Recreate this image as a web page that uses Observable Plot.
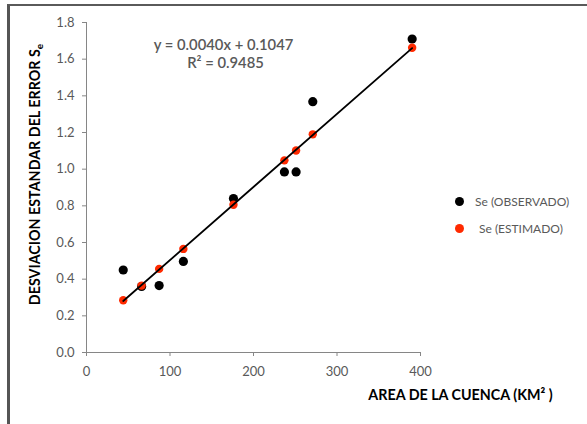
<!DOCTYPE html>
<html>
<head>
<meta charset="utf-8">
<script src="https://cdn.jsdelivr.net/npm/d3@7"></script>
<script src="https://cdn.jsdelivr.net/npm/@observablehq/plot@0.6"></script>
<style>
  html, body { margin: 0; padding: 0; background: #fff; }
  #wrap { position: relative; width: 587px; height: 424px; overflow: hidden; font-family: Lato, "Open Sans", sans-serif; }
  #wrap svg { position: absolute; left: 0; top: 0; }
  #frame { position: absolute; left: 7px; top: 4px; width: 620px; height: 440px;
           border-left: 3px solid #555; border-top: 2px solid #5a5a5a; }
  .leg { position: absolute; display: flex; align-items: center; font-size: 12px; color: #595959; white-space: nowrap; }
  .leg .sw { display: inline-block; border-radius: 50%; }
</style>
</head>
<body>
<div id="wrap"><div id="frame"></div></div>
<script>
// ---- data ----
const areas     = [44, 66, 87, 116, 176, 237, 251, 271, 390];
const observed  = [0.45, 0.36, 0.365, 0.497, 0.84, 0.985, 0.985, 1.368, 1.71];
const estimated = [0.285, 0.365, 0.456, 0.565, 0.806, 1.048, 1.102, 1.19, 1.662];
const xTicks = [0, 100, 200, 300, 400];
const yTicks = [0, 0.2, 0.4, 0.6, 0.8, 1.0, 1.2, 1.4, 1.6, 1.8];
const seriesNames = ["Se (OBSERVADO)", "Se (ESTIMADO)"];
const seriesColors = ["#000000", "#ff2a00"];
const equationText = "y = 0.0040x + 0.1047";
const r2Text = "R\u00b2 = 0.9485";
const xTitle = "AREA DE LA CUENCA (KM\u00b2 )";
const yTitle = "DESVIACION ESTANDAR DEL ERROR S";

const rows = areas.map((a, i) => ({area: a, obs: observed[i], est: estimated[i]}));

const axisGray = "#868686";
const textGray = "#595959";

const chart = Plot.plot({
  width: 587,
  height: 424,
  marginLeft: 86,
  marginRight: 167,
  marginTop: 22,
  marginBottom: 72,
  style: {fontFamily: "Lato, 'Open Sans', sans-serif", fontSize: "13px", background: "transparent"},
  x: {domain: [0, 400]},
  y: {domain: [0, 1.8]},
  marks: [
    Plot.ruleX([0], {stroke: axisGray, strokeWidth: 1}),
    Plot.ruleY([0], {stroke: axisGray, strokeWidth: 1}),
    Plot.axisX({ticks: xTicks, tickSize: 4, tickPadding: 10, label: null, color: axisGray, fontSize: 13}),
    Plot.axisY({ticks: yTicks, tickSize: 4, tickPadding: 8, label: null, color: axisGray, fontSize: 13, tickFormat: d3.format(".1f")}),
    Plot.dot(rows, {x: "area", y: "obs", r: 4.6, fill: seriesColors[0]}),
    Plot.dot(rows, {x: "area", y: "est", r: 4.2, fill: seriesColors[1]}),
    Plot.linearRegressionY(rows, {x: "area", y: "est", ci: 0, stroke: "#000", strokeWidth: 1.8}),
    Plot.text([equationText], {frameAnchor: "top-left", textAnchor: "middle", lineAnchor: "middle", dx: 137, dy: 23, fill: textGray, fontSize: 14.8, fontWeight: 600}),
    Plot.text([r2Text], {frameAnchor: "top-left", textAnchor: "middle", lineAnchor: "middle", dx: 139, dy: 41, fill: textGray, fontSize: 14.8, fontWeight: 600}),
    Plot.text([xTitle], {frameAnchor: "bottom-left", textAnchor: "middle", lineAnchor: "middle", dx: 374, dy: 43, fill: "#000", fontSize: 14.3, fontWeight: "bold"}),
    Plot.text([yTitle], {frameAnchor: "left", textAnchor: "middle", lineAnchor: "middle", rotate: -90, dx: -51, dy: -13, fill: "#000", fontSize: 14.3, fontWeight: "bold"})
  ]
});

const svg = d3.select(chart);
svg.selectAll('[aria-label="x-axis tick label"] text, [aria-label="y-axis tick label"] text').attr("fill", textGray);
// subscript "e" on the y title
svg.selectAll("text").filter(function() { return this.textContent === yTitle; })
  .each(function() {
    d3.select(this).append("tspan").attr("dy", "0.3em").attr("font-size", "10px").text("e");
  });

const wrap = document.getElementById("wrap");
wrap.appendChild(chart);

// legend
const legendPos = [{x: 455, y: 201, tx: 475}, {x: 455, y: 228, tx: 479}];
seriesNames.forEach((name, i) => {
  const d = document.createElement("div");
  d.className = "leg";
  d.style.left = legendPos[i].x + "px";
  d.style.top = (legendPos[i].y - 8) + "px";
  d.style.height = "16px";
  const sw = document.createElement("span");
  sw.className = "sw";
  sw.style.width = "9px"; sw.style.height = "9px";
  sw.style.background = seriesColors[i];
  sw.style.marginRight = (legendPos[i].tx - legendPos[i].x - 9) + "px";
  d.appendChild(sw);
  d.appendChild(document.createTextNode(name));
  wrap.appendChild(d);
});
</script>
</body>
</html>
